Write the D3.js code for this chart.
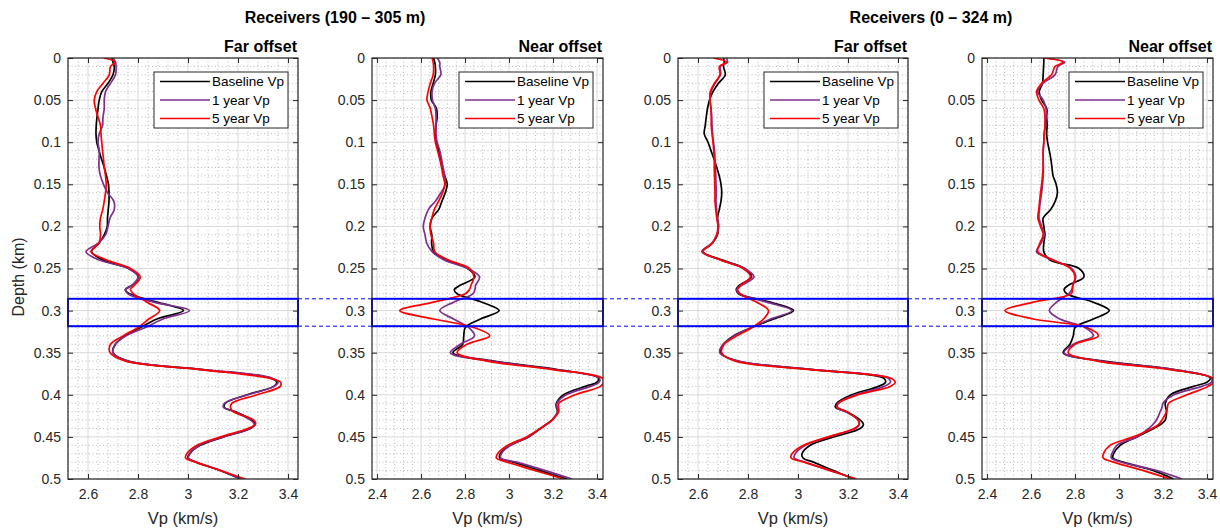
<!DOCTYPE html>
<html>
<head>
<meta charset="utf-8">
<script src="https://cdnjs.cloudflare.com/ajax/libs/d3/7.8.5/d3.min.js"></script>
<style>
  body { margin: 0; background: #fff; }
  svg { font-family: "Liberation Sans", Arial, Helvetica, sans-serif; }
</style>
</head>
<body>
<div id="chart"></div>
<script>
// depth samples (km), shared by every curve
var depth = [0, 0.005, 0.01, 0.02, 0.03, 0.04, 0.05, 0.06, 0.07, 0.08, 0.09, 0.10,
  0.11, 0.12, 0.13, 0.14, 0.15, 0.16, 0.17, 0.18, 0.19, 0.20,
  0.21, 0.22, 0.23, 0.24, 0.25, 0.26, 0.27, 0.275, 0.28, 0.29,
  0.30, 0.31, 0.32, 0.33, 0.34, 0.35, 0.36, 0.37, 0.38, 0.385,
  0.39, 0.40, 0.41, 0.415, 0.42, 0.43, 0.435, 0.44, 0.45, 0.46, 0.47, 0.475, 0.48, 0.49, 0.50];

// Receivers 190-305 m, far offset
var far190Base = [2.696, 2.700, 2.705, 2.700, 2.680, 2.655, 2.645, 2.640, 2.636, 2.633, 2.632, 2.635,
  2.644, 2.654, 2.665, 2.674, 2.682, 2.684, 2.684, 2.681, 2.678, 2.677,
  2.665, 2.644, 2.614, 2.660, 2.762, 2.802, 2.776, 2.749, 2.766, 2.876,
  2.982, 2.876, 2.810, 2.749, 2.709, 2.700, 2.760, 3.060, 3.330, 3.355,
  3.343, 3.236, 3.149, 3.145, 3.189, 3.256, 3.269, 3.250, 3.143, 3.049, 3.006, 3.000, 3.033, 3.129, 3.209];
var far190Y1 = [2.700, 2.710, 2.712, 2.710, 2.690, 2.670, 2.665, 2.665, 2.660, 2.658, 2.645, 2.640,
  2.645, 2.644, 2.644, 2.650, 2.662, 2.678, 2.703, 2.705, 2.688, 2.680,
  2.670, 2.641, 2.592, 2.645, 2.762, 2.800, 2.776, 2.750, 2.760, 2.863,
  3.006, 2.900, 2.830, 2.752, 2.710, 2.700, 2.760, 3.060, 3.335, 3.360,
  3.345, 3.240, 3.146, 3.142, 3.185, 3.250, 3.265, 3.248, 3.140, 3.045, 3.008, 3.002, 3.035, 3.130, 3.212];
var far190Y5 = [2.662, 2.710, 2.690, 2.685, 2.660, 2.635, 2.625, 2.630, 2.640, 2.650, 2.652, 2.655,
  2.658, 2.662, 2.665, 2.670, 2.673, 2.670, 2.665, 2.659, 2.650, 2.647,
  2.650, 2.644, 2.612, 2.675, 2.770, 2.809, 2.786, 2.770, 2.782, 2.836,
  2.887, 2.843, 2.800, 2.740, 2.690, 2.688, 2.750, 3.050, 3.320, 3.370,
  3.369, 3.276, 3.176, 3.170, 3.180, 3.263, 3.270, 3.240, 3.130, 3.036, 2.995, 2.990, 3.030, 3.130, 3.229];

// Receivers 190-305 m, near offset
var near190Base = [2.657, 2.662, 2.665, 2.665, 2.655, 2.645, 2.647, 2.670, 2.673, 2.668, 2.665, 2.670,
  2.680, 2.688, 2.697, 2.708, 2.719, 2.710, 2.695, 2.680, 2.650, 2.641,
  2.649, 2.648, 2.657, 2.719, 2.812, 2.845, 2.778, 2.751, 2.764, 2.877,
  2.955, 2.870, 2.801, 2.794, 2.789, 2.745, 2.930, 3.220, 3.406, 3.400,
  3.347, 3.248, 3.215, 3.215, 3.220, 3.195, 3.170, 3.142, 3.089, 3.006, 2.960, 2.958, 3.021, 3.142, 3.264];
var near190Y1 = [2.673, 2.685, 2.685, 2.690, 2.661, 2.650, 2.652, 2.665, 2.668, 2.668, 2.668, 2.673,
  2.685, 2.693, 2.700, 2.707, 2.710, 2.690, 2.665, 2.633, 2.618, 2.610,
  2.618, 2.626, 2.650, 2.705, 2.812, 2.866, 2.848, 2.845, 2.835, 2.748,
  2.685, 2.748, 2.816, 2.843, 2.779, 2.733, 2.920, 3.210, 3.410, 3.410,
  3.370, 3.260, 3.218, 3.218, 3.220, 3.195, 3.170, 3.142, 3.087, 3.006, 2.965, 2.962, 3.035, 3.165, 3.286];
var near190Y5 = [2.650, 2.655, 2.657, 2.655, 2.642, 2.632, 2.627, 2.642, 2.650, 2.657, 2.660, 2.665,
  2.675, 2.685, 2.693, 2.700, 2.708, 2.698, 2.680, 2.660, 2.649, 2.641,
  2.645, 2.657, 2.662, 2.725, 2.820, 2.840, 2.827, 2.820, 2.801, 2.657,
  2.503, 2.657, 2.839, 2.912, 2.809, 2.764, 2.900, 3.200, 3.423, 3.430,
  3.415, 3.301, 3.226, 3.225, 3.226, 3.195, 3.170, 3.142, 3.080, 2.994, 2.948, 2.942, 2.991, 3.120, 3.248];

// Receivers 0-324 m, far offset
var far324Base = [2.702, 2.705, 2.702, 2.709, 2.682, 2.660, 2.646, 2.638, 2.633, 2.629, 2.625, 2.640,
  2.652, 2.664, 2.675, 2.685, 2.692, 2.695, 2.692, 2.685, 2.678, 2.680,
  2.678, 2.657, 2.619, 2.698, 2.787, 2.814, 2.765, 2.753, 2.762, 2.889,
  2.982, 2.902, 2.816, 2.742, 2.702, 2.689, 2.760, 3.060, 3.342, 3.350,
  3.322, 3.215, 3.155, 3.150, 3.195, 3.249, 3.262, 3.249, 3.142, 3.049, 3.016, 3.020, 3.062, 3.142, 3.222];
var far324Y1 = [2.713, 2.718, 2.690, 2.690, 2.668, 2.652, 2.648, 2.652, 2.655, 2.656, 2.658, 2.662,
  2.666, 2.668, 2.670, 2.671, 2.672, 2.673, 2.672, 2.674, 2.678, 2.683,
  2.676, 2.655, 2.615, 2.690, 2.787, 2.824, 2.775, 2.755, 2.765, 2.875,
  2.975, 2.890, 2.815, 2.745, 2.700, 2.687, 2.760, 3.060, 3.360, 3.370,
  3.345, 3.230, 3.160, 3.155, 3.190, 3.240, 3.245, 3.230, 3.125, 3.030, 2.989, 2.985, 3.027, 3.130, 3.233];
var far324Y5 = [2.662, 2.715, 2.686, 2.688, 2.666, 2.649, 2.648, 2.652, 2.653, 2.653, 2.656, 2.660,
  2.663, 2.665, 2.665, 2.666, 2.667, 2.668, 2.668, 2.671, 2.675, 2.680,
  2.674, 2.657, 2.620, 2.690, 2.780, 2.810, 2.770, 2.758, 2.769, 2.835,
  2.882, 2.862, 2.816, 2.755, 2.705, 2.695, 2.750, 3.050, 3.369, 3.389,
  3.369, 3.240, 3.162, 3.158, 3.195, 3.240, 3.245, 3.225, 3.120, 3.022, 2.976, 2.972, 3.025, 3.129, 3.233];

// Receivers 0-324 m, near offset
var near324Base = [2.658, 2.658, 2.657, 2.655, 2.652, 2.637, 2.648, 2.671, 2.671, 2.673, 2.671, 2.675,
  2.683, 2.690, 2.695, 2.700, 2.714, 2.720, 2.710, 2.689, 2.655, 2.658,
  2.663, 2.658, 2.658, 2.686, 2.818, 2.840, 2.769, 2.750, 2.762, 2.883,
  2.956, 2.883, 2.800, 2.792, 2.777, 2.746, 2.930, 3.250, 3.415, 3.400,
  3.339, 3.233, 3.210, 3.212, 3.216, 3.210, 3.190, 3.157, 3.081, 3.005, 2.975, 2.972, 3.020, 3.157, 3.248];
var near324Y1 = [2.660, 2.753, 2.722, 2.709, 2.655, 2.630, 2.655, 2.668, 2.668, 2.665, 2.660, 2.658,
  2.655, 2.655, 2.656, 2.655, 2.652, 2.648, 2.642, 2.638, 2.636, 2.648,
  2.660, 2.645, 2.625, 2.700, 2.785, 2.803, 2.790, 2.785, 2.770, 2.716,
  2.683, 2.731, 2.845, 2.883, 2.792, 2.750, 2.920, 3.250, 3.420, 3.420,
  3.377, 3.250, 3.200, 3.195, 3.187, 3.170, 3.155, 3.135, 3.081, 2.990, 2.967, 2.965, 3.010, 3.172, 3.286];
var near324Y5 = [2.658, 2.746, 2.709, 2.693, 2.648, 2.625, 2.636, 2.658, 2.663, 2.663, 2.660, 2.658,
  2.655, 2.655, 2.655, 2.652, 2.648, 2.643, 2.639, 2.635, 2.631, 2.643,
  2.655, 2.640, 2.631, 2.701, 2.779, 2.800, 2.790, 2.788, 2.783, 2.610,
  2.481, 2.610, 2.853, 2.906, 2.800, 2.769, 2.900, 3.230, 3.423, 3.430,
  3.405, 3.309, 3.225, 3.220, 3.216, 3.195, 3.180, 3.150, 3.065, 2.959, 2.929, 2.928, 2.975, 3.111, 3.233];

var depthTicks = [0, 0.05, 0.1, 0.15, 0.2, 0.25, 0.3, 0.35, 0.4, 0.45, 0.5];
var farTicks = [2.6, 2.8, 3, 3.2, 3.4];
var nearTicks = [2.4, 2.6, 2.8, 3, 3.2, 3.4];
var farDomain = [2.52, 3.44];
var nearDomain = [2.377, 3.427];
var seriesNames = ['Baseline Vp', '1 year Vp', '5 year Vp'];
var seriesColors = ['#000000', '#7E2F8E', '#FF0000'];
var groupTitles = ['Receivers (190 \u2013 305 m)', 'Receivers (0 \u2013 324 m)'];
var boxDepth = [0.286, 0.3185];

var panels = [
  { left: 68, w: 230, title: 'Far offset', domain: farDomain, ticks: farTicks, series: [far190Base, far190Y1, far190Y5] },
  { left: 372, w: 231, title: 'Near offset', domain: nearDomain, ticks: nearTicks, series: [near190Base, near190Y1, near190Y5] },
  { left: 678, w: 230, title: 'Far offset', domain: farDomain, ticks: farTicks, series: [far324Base, far324Y1, far324Y5] },
  { left: 982, w: 231, title: 'Near offset', domain: nearDomain, ticks: nearTicks, series: [near324Base, near324Y1, near324Y5] }
];

(function() {
  var plotTop = 58, plotBottom = 479, axisColor = '#262626';

  var svg = d3.select('#chart')
    .append('svg')
    .attr('width', 1220)
    .attr('height', 531);

  var yScale = d3.scaleLinear().domain([0, 0.5]).range([plotTop, plotBottom]);

  // blue dashed connectors between the highlight boxes
  panels.forEach(function(p, i) {
    if (i == panels.length - 1) return;
    var next = panels[i + 1];
    boxDepth.forEach(function(d) {
      svg.append('line')
        .attr('x1', p.left + p.w).attr('x2', next.left)
        .attr('y1', yScale(d)).attr('y2', yScale(d))
        .attr('stroke', '#0000FF')
        .attr('stroke-width', 1)
        .attr('stroke-dasharray', '4,3');
    });
  });

  panels.forEach(function(p, i) {
    var xScale = d3.scaleLinear().domain(p.domain).range([p.left, p.left + p.w]);
    var g = svg.append('g');

    g.append('clipPath').attr('id', 'clip' + i)
      .append('rect')
      .attr('x', p.left).attr('y', plotTop)
      .attr('width', p.w).attr('height', plotBottom - plotTop);

    // minor grid
    var minorX = d3.range(Math.ceil(p.domain[0] * 25), Math.floor(p.domain[1] * 25) + 1)
      .filter(function(k) { return k % 5 != 0; })
      .map(function(k) { return k / 25; });
    var minorY = d3.range(0, 51)
      .filter(function(k) { return k % 5 != 0; })
      .map(function(k) { return k / 100; });

    g.selectAll('.minor-x').data(minorX).enter().append('line')
      .attr('x1', function(d) { return xScale(d); })
      .attr('x2', function(d) { return xScale(d); })
      .attr('y1', plotTop).attr('y2', plotBottom)
      .attr('stroke', '#a8a8a8').attr('stroke-width', 0.8)
      .attr('stroke-dasharray', '1,2.5');

    g.selectAll('.minor-y').data(minorY).enter().append('line')
      .attr('x1', p.left).attr('x2', p.left + p.w)
      .attr('y1', function(d) { return yScale(d); })
      .attr('y2', function(d) { return yScale(d); })
      .attr('stroke', '#a8a8a8').attr('stroke-width', 0.8)
      .attr('stroke-dasharray', '1,2.5');

    // major grid
    g.selectAll('.major-x').data(p.ticks).enter().append('line')
      .attr('x1', function(d) { return xScale(d); })
      .attr('x2', function(d) { return xScale(d); })
      .attr('y1', plotTop).attr('y2', plotBottom)
      .attr('stroke', '#d9d9d9').attr('stroke-width', 1);

    g.selectAll('.major-y').data(depthTicks).enter().append('line')
      .attr('x1', p.left).attr('x2', p.left + p.w)
      .attr('y1', function(d) { return yScale(d); })
      .attr('y2', function(d) { return yScale(d); })
      .attr('stroke', '#d9d9d9').attr('stroke-width', 1);

    // velocity curves
    var line = d3.line()
      .x(function(v) { return xScale(v); })
      .y(function(v, j) { return yScale(depth[j]); })
      .curve(d3.curveCatmullRom.alpha(0.5));

    p.series.forEach(function(values, s) {
      g.append('path')
        .datum(values)
        .attr('clip-path', 'url(#clip' + i + ')')
        .attr('d', line)
        .attr('fill', 'none')
        .attr('stroke', seriesColors[s])
        .attr('stroke-width', 1.7)
        .attr('stroke-linejoin', 'round');
    });

    // highlight box
    g.append('rect')
      .attr('x', p.left).attr('y', yScale(boxDepth[0]))
      .attr('width', p.w).attr('height', yScale(boxDepth[1]) - yScale(boxDepth[0]))
      .attr('fill', 'none')
      .attr('stroke', '#0000FF')
      .attr('stroke-width', 2);

    // axes, ticks pointing inward
    var leftAxis = g.append('g')
      .attr('transform', 'translate(' + p.left + ',0)')
      .call(d3.axisLeft(yScale).tickValues(depthTicks).tickSizeInner(-5).tickSizeOuter(0).tickPadding(7).tickFormat(d3.format('')));
    var rightAxis = g.append('g')
      .attr('transform', 'translate(' + (p.left + p.w) + ',0)')
      .call(d3.axisRight(yScale).tickValues(depthTicks).tickSizeInner(-5).tickSizeOuter(0).tickFormat(''));
    var bottomAxis = g.append('g')
      .attr('transform', 'translate(0,' + plotBottom + ')')
      .call(d3.axisBottom(xScale).tickValues(p.ticks).tickSizeInner(-5).tickSizeOuter(0).tickPadding(10).tickFormat(d3.format('')));
    var topAxis = g.append('g')
      .attr('transform', 'translate(0,' + plotTop + ')')
      .call(d3.axisTop(xScale).tickValues(p.ticks).tickSizeInner(-5).tickSizeOuter(0).tickFormat(''));

    [leftAxis, rightAxis, bottomAxis, topAxis].forEach(function(a) {
      a.select('.domain').remove();
      a.selectAll('line').attr('stroke', axisColor);
      a.selectAll('text').attr('fill', axisColor).style('font-size', '14px')
        .style('font-family', '"Liberation Sans", Arial, sans-serif');
    });

    g.append('rect')
      .attr('x', p.left).attr('y', plotTop)
      .attr('width', p.w).attr('height', plotBottom - plotTop)
      .attr('fill', 'none')
      .attr('stroke', axisColor)
      .attr('stroke-width', 1.2);

    // legend
    var lx = p.left + p.w - 144, ly = 72;
    g.append('rect')
      .attr('x', lx).attr('y', ly)
      .attr('width', 134).attr('height', 56)
      .attr('fill', '#fff')
      .attr('stroke', axisColor)
      .attr('stroke-width', 1);
    seriesNames.forEach(function(name, s) {
      var ry = ly + 9.5 + s * 18.5;
      g.append('line')
        .attr('x1', lx + 6).attr('x2', lx + 56)
        .attr('y1', ry).attr('y2', ry)
        .attr('stroke', seriesColors[s])
        .attr('stroke-width', 1.7);
      g.append('text')
        .attr('x', lx + 58).attr('y', ry + 4.7)
        .style('font-size', '13.5px')
        .attr('fill', '#000')
        .text(name);
    });

    // panel title and x label
    g.append('text')
      .attr('x', p.left + p.w - 1).attr('y', 52)
      .attr('text-anchor', 'end')
      .style('font-size', '16px')
      .style('font-weight', 'bold')
      .attr('fill', '#000')
      .text(p.title);

    g.append('text')
      .attr('x', p.left + p.w / 2).attr('y', 524)
      .attr('text-anchor', 'middle')
      .style('font-size', '16.5px')
      .attr('fill', axisColor)
      .text('Vp (km/s)');
  });

  // group titles
  svg.append('text')
    .attr('x', 335).attr('y', 23)
    .attr('text-anchor', 'middle')
    .style('font-size', '16px')
    .style('font-weight', 'bold')
    .text(groupTitles[0]);

  svg.append('text')
    .attr('x', 931).attr('y', 23)
    .attr('text-anchor', 'middle')
    .style('font-size', '16px')
    .style('font-weight', 'bold')
    .text(groupTitles[1]);

  svg.append('text')
    .attr('transform', 'translate(24,277) rotate(-90)')
    .attr('text-anchor', 'middle')
    .style('font-size', '16px')
    .attr('fill', axisColor)
    .text('Depth (km)');
})();
</script>
</body>
</html>
